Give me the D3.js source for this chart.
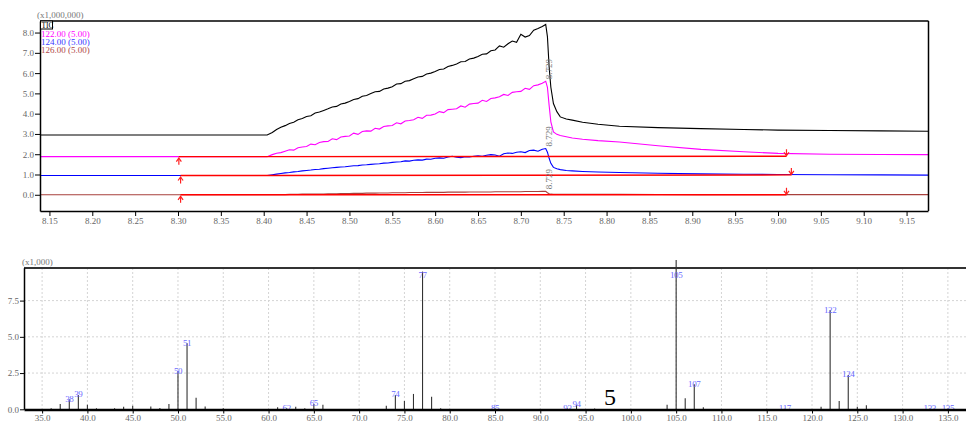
<!DOCTYPE html>
<html><head><meta charset="utf-8">
<script src="https://cdn.jsdelivr.net/npm/d3@7"></script>
<style>body{margin:0;background:#fff} svg{display:block} text{font-family:"Liberation Serif",serif}</style>
</head><body><svg id="c" width="966" height="421"></svg>
<script>
// ---------- Chromatogram data (top) ----------
const times = [8.139, 8.404,
 8.410, 8.415, 8.420, 8.425, 8.430, 8.435, 8.440, 8.445, 8.450,
 8.455, 8.460, 8.465, 8.470, 8.475, 8.480, 8.485, 8.490, 8.495, 8.500,
 8.505, 8.510, 8.515, 8.520, 8.525, 8.530, 8.535, 8.540, 8.545, 8.550,
 8.555, 8.560, 8.565, 8.570, 8.575, 8.580, 8.585, 8.590, 8.595, 8.600,
 8.605, 8.610, 8.615, 8.620, 8.625, 8.630, 8.635, 8.640, 8.645, 8.650,
 8.655, 8.660, 8.665, 8.670, 8.675, 8.680, 8.685, 8.690, 8.695, 8.700,
 8.705, 8.710, 8.715, 8.720, 8.725, 8.729,
 8.731, 8.733, 8.735, 8.738, 8.742, 8.746, 8.753, 8.760, 8.772, 8.790, 8.815, 8.860, 8.910, 8.960, 9.000, 9.060, 9.120, 9.175];
const ticValues = [2.95, 2.95,
 3.07, 3.22, 3.33, 3.41, 3.52, 3.58, 3.70, 3.76, 3.86,
 3.90, 4.03, 4.08, 4.16, 4.24, 4.33, 4.36, 4.48, 4.52, 4.60,
 4.70, 4.74, 4.86, 4.90, 4.99, 5.08, 5.10, 5.22, 5.26, 5.33,
 5.46, 5.48, 5.60, 5.63, 5.72, 5.81, 5.84, 5.96, 6.00, 6.08,
 6.18, 6.20, 6.33, 6.38, 6.45, 6.56, 6.57, 6.70, 6.74, 6.82,
 6.93, 6.95, 7.10, 7.14, 7.34, 7.28, 7.45, 7.58, 7.52, 7.92,
 7.78, 7.85, 8.12, 8.20, 8.30, 8.40,
 7.80, 6.30, 5.30, 4.50, 4.10, 3.84, 3.74, 3.68, 3.58, 3.48, 3.38, 3.31, 3.26, 3.22, 3.19, 3.17, 3.15, 3.13];
const mz122Values = [1.88, 1.88,
 1.98, 2.05, 2.08, 2.15, 2.22, 2.20, 2.32, 2.36, 2.38,
 2.50, 2.47, 2.58, 2.62, 2.63, 2.76, 2.72, 2.85, 2.88, 2.90,
 3.04, 2.98, 3.12, 3.15, 3.14, 3.28, 3.24, 3.37, 3.40, 3.42,
 3.55, 3.50, 3.64, 3.66, 3.70, 3.82, 3.77, 3.92, 3.93, 3.98,
 4.10, 4.05, 4.20, 4.22, 4.24, 4.38, 4.32, 4.47, 4.50, 4.52,
 4.66, 4.60, 4.75, 4.78, 4.83, 4.95, 4.90, 5.05, 5.08, 5.10,
 5.25, 5.20, 5.38, 5.42, 5.50, 5.60,
 5.30, 4.40, 3.60, 3.10, 2.98, 2.92, 2.86, 2.80, 2.74, 2.67, 2.60, 2.42, 2.24, 2.12, 2.04, 2.00, 1.99, 1.98];
const mz124Values = [0.95, 0.95,
 0.99, 1.02, 1.05, 1.08, 1.10, 1.13, 1.15, 1.18, 1.20,
 1.22, 1.25, 1.26, 1.29, 1.31, 1.33, 1.35, 1.37, 1.38, 1.41,
 1.43, 1.44, 1.47, 1.48, 1.50, 1.52, 1.53, 1.56, 1.57, 1.60,
 1.62, 1.63, 1.67, 1.66, 1.70, 1.72, 1.71, 1.76, 1.75, 1.80,
 1.82, 1.80, 1.86, 1.90, 1.85, 1.83, 1.88, 1.86, 1.90, 1.92,
 1.90, 1.95, 1.98, 1.96, 1.90, 2.02, 2.06, 2.04, 2.10, 2.12,
 2.08, 2.18, 2.20, 2.15, 2.25, 2.28,
 2.10, 1.80, 1.55, 1.35, 1.28, 1.24, 1.20, 1.18, 1.15, 1.12, 1.10, 1.06, 1.03, 1.01, 1.00, 0.99, 0.98, 0.97];
const mz126Values = [0.00, 0.00,
 0.00, 0.01, 0.01, 0.01, 0.02, 0.02, 0.02, 0.03, 0.03,
 0.03, 0.04, 0.04, 0.04, 0.05, 0.05, 0.05, 0.06, 0.06, 0.06,
 0.07, 0.07, 0.07, 0.08, 0.08, 0.08, 0.09, 0.09, 0.09, 0.10,
 0.10, 0.10, 0.10, 0.11, 0.11, 0.11, 0.11, 0.12, 0.12, 0.12,
 0.12, 0.12, 0.13, 0.13, 0.13, 0.13, 0.13, 0.14, 0.14, 0.14,
 0.14, 0.14, 0.14, 0.15, 0.15, 0.15, 0.15, 0.15, 0.15, 0.15,
 0.16, 0.16, 0.16, 0.16, 0.17, 0.17,
 0.10, 0.05, 0.03, 0.02, 0.02, 0.02, 0.02, 0.02, 0.02, 0.02, 0.02, 0.01, 0.01, 0.01, 0.01, 0.01, 0.01, 0.01];
const legendLabels = ["TIC", "122.00 (5.00)", "124.00 (5.00)", "126.00 (5.00)"];
const peakTime = 8.729;
const peakLabel = "8.729";
// integration baselines for 122, 124, 126
const baseStartT = [8.301, 8.303, 8.303];
const baseEndT = [9.0099, 9.0156, 9.0099];
const baseStartV = [1.88, 0.95, 0.00];
const baseEndV = [1.90, 0.98, 0.00];
const topXTicks = [8.15,8.20,8.25,8.30,8.35,8.40,8.45,8.50,8.55,8.60,8.65,8.70,8.75,8.80,8.85,8.90,8.95,9.00,9.05,9.10,9.15];
const topYTicks = [0,1,2,3,4,5,6,7,8];

// ---------- Mass spectrum data (bottom) ----------
const mzList = [36,37,38,39,40,41,43,44,45,47,48,49,50,51,52,53,55,61,62,63,64,65,66,73,74,75,76,77,78,79,85,93,94,96,104,105,106,107,108,117,121,122,123,124,125,126,133,135];
const intensity = [0.07,0.37,0.69,0.99,0.32,0.07,0.07,0.18,0.25,0.20,0.09,0.37,2.64,4.55,0.80,0.20,0.07,0.14,0.07,0.18,0.07,0.37,0.32,0.25,0.99,0.57,1.06,9.50,0.87,0.07,0.05,0.05,0.30,0.05,0.32,10.3,0.76,1.72,0.14,0.04,0.18,6.85,0.57,2.37,0.18,0.28,0.04,0.04];
const labeledMz = [38,39,50,51,62,65,74,77,85,93,94,105,107,117,122,124,133,135];
const bottomXTicks = [35,40,45,50,55,60,65,70,75,80,85,90,95,100,105,110,115,120,125,130,135];
const bottomYTicks = [0,2.5,5.0,7.5];

const svg = d3.select("#c");

// ================= TOP CHART =================
const x = d3.scaleLinear([8.139, 9.175], [40, 928]);
const y = d3.scaleLinear([-0.8, 8.57], [211, 21]);

const series = [
  {vals: ticValues, color: "#000000"},
  {vals: mz122Values, color: "#ff00ff"},
  {vals: mz124Values, color: "#0000ff"},
  {vals: mz126Values, color: "#a8403c"}
];
const line = d3.line().x(d => x(d[0])).y(d => y(d[1]));
series.forEach(s => {
  svg.append("path").datum(times.map((t,i) => [t, s.vals[i]]))
    .attr("d", line).attr("fill","none").attr("stroke", s.color).attr("stroke-width", 1.1);
});

// red baselines
baseStartT.forEach((t0, i) => {
  svg.append("path").datum([[t0, baseStartV[i]], [baseEndT[i], baseEndV[i]]])
    .attr("d", line).attr("fill","none").attr("stroke","#ff0000").attr("stroke-width",1.4);
  const sx = x(t0), sy = y(baseStartV[i]);
  svg.append("line").attr("x1",sx).attr("x2",sx).attr("y1",sy+8).attr("y2",sy+2)
    .attr("stroke","#ff2020").attr("stroke-width",1.2);
  svg.append("path").attr("d",`M${sx-2.5},${sy+5}L${sx},${sy+1.5}L${sx+2.5},${sy+5}`)
    .attr("fill","none").attr("stroke","#ff2020").attr("stroke-width",1.2);
  const ex = x(baseEndT[i]), ey = y(baseEndV[i]);
  svg.append("line").attr("x1",ex).attr("x2",ex).attr("y1",ey-7).attr("y2",ey-1)
    .attr("stroke","#ff2020").attr("stroke-width",1.2);
  svg.append("path").attr("d",`M${ex-2.5},${ey-4}L${ex},${ey-0.5}L${ex+2.5},${ey-4}`)
    .attr("fill","none").attr("stroke","#ff2020").attr("stroke-width",1.2);
});

// peak labels (rotated) for 122, 124, 126
const pi = times.indexOf(peakTime);
[mz122Values, mz124Values, mz126Values].forEach(vals => {
  const px = x(peakTime) + 6, py = y(vals[pi]) - 2;
  svg.append("text").attr("transform",`translate(${px},${py}) rotate(-90)`)
    .attr("font-size",9).attr("fill","#777").text(peakLabel);
});

// frame
svg.append("line").attr("x1",40).attr("x2",928.5).attr("y1",21).attr("y2",21).attr("stroke","#000").attr("stroke-width",1.5);
svg.append("line").attr("x1",928.5).attr("x2",928.5).attr("y1",21).attr("y2",211).attr("stroke","#000").attr("stroke-width",1.5);

// x axis top
const fmt2 = d3.format(".2f");
const gx = svg.append("g").attr("transform","translate(0,211)");
gx.call(d3.axisBottom(x).tickValues(d3.range(815, 918).map(v => v/100)).tickSize(3).tickFormat("").tickSizeOuter(0));
gx.call(d3.axisBottom(x).tickValues(topXTicks).tickSize(5).tickPadding(2).tickFormat(fmt2).tickSizeOuter(0));
gx.selectAll(".domain").attr("stroke","#000").attr("stroke-width",1.5);
gx.selectAll("text").attr("font-size",9).attr("fill","#666").attr("font-family","Liberation Serif");

// y axis top
const gy = svg.append("g").attr("transform","translate(40,0)");
gy.call(d3.axisLeft(y).tickValues(d3.range(-4, 43).map(v => v/5)).tickSize(2.5).tickFormat("").tickSizeOuter(0));
gy.call(d3.axisLeft(y).tickValues(topYTicks).tickSize(5).tickPadding(1).tickFormat(d3.format(".1f")).tickSizeOuter(0));
gy.selectAll(".domain").attr("stroke","#000").attr("stroke-width",1.5);
gy.selectAll("text").attr("font-size",9).attr("fill","#666").attr("font-family","Liberation Serif");

svg.append("text").attr("x",37).attr("y",18).attr("font-size",9).attr("fill","#777").text("(x1,000,000)");

// legend
svg.append("rect").attr("x",40.5).attr("y",21).attr("width",12).attr("height",8)
  .attr("fill","#fff").attr("stroke","#000").attr("stroke-width",1);
svg.append("text").attr("x",41.5).attr("y",27.8).attr("font-size",7.5).attr("fill","#000").text(legendLabels[0]);
const legColors = ["#ff00ff","#3a3aff","#b04848"];
legendLabels.slice(1).forEach((lab, i) => {
  svg.append("text").attr("x",41).attr("y",37 + i*8.2).attr("font-size",9)
    .attr("fill",legColors[i]).text(lab);
});

// ================= BOTTOM CHART =================
const xs = d3.scaleLinear([33.0, 137.0], [24, 966]);
const ys = d3.scaleLinear([0, 9.77], [409.3, 267.7]);

const grid = svg.append("g");
bottomXTicks.forEach(v => {
  grid.append("line").attr("x1",xs(v)).attr("x2",xs(v)).attr("y1",268).attr("y2",409)
    .attr("stroke","#d4d4d4").attr("stroke-dasharray","2,2");
});
bottomYTicks.slice(1).forEach(v => {
  grid.append("line").attr("x1",24).attr("x2",966).attr("y1",ys(v)).attr("y2",ys(v))
    .attr("stroke","#d4d4d4").attr("stroke-dasharray","2,2");
});

mzList.forEach((m, i) => {
  svg.append("line").attr("x1",xs(m)).attr("x2",xs(m)).attr("y1",ys(0)).attr("y2",ys(intensity[i]))
    .attr("stroke","#333").attr("stroke-width",1.1);
});
labeledMz.forEach(m => {
  const v = intensity[mzList.indexOf(m)];
  const by = Math.max(ys(v) + 2.5, 278);
  svg.append("text").attr("x",xs(m)).attr("y",by).attr("text-anchor","middle")
    .attr("font-size",9).attr("letter-spacing","-0.4").attr("fill","#6b6bff").text(m);
});

svg.append("line").attr("x1",24).attr("x2",966).attr("y1",268).attr("y2",268).attr("stroke","#333").attr("stroke-width",1.8);

const gbx = svg.append("g").attr("transform","translate(0,409.5)");
gbx.call(d3.axisBottom(xs).tickValues(d3.range(34, 138)).tickSize(3).tickFormat("").tickSizeOuter(0));
gbx.call(d3.axisBottom(xs).tickValues(bottomXTicks).tickSize(4).tickPadding(1).tickFormat(d3.format(".1f")).tickSizeOuter(0));
gbx.selectAll(".domain").attr("stroke","#000").attr("stroke-width",2.5);
gbx.selectAll("text").attr("font-size",9).attr("fill","#666").attr("font-family","Liberation Serif");

const gby = svg.append("g").attr("transform","translate(24,0)");
gby.call(d3.axisLeft(ys).tickValues(d3.range(0, 20).map(v => v/2)).tickSize(2.5).tickFormat("").tickSizeOuter(0));
gby.call(d3.axisLeft(ys).tickValues(bottomYTicks).tickSize(4).tickPadding(1).tickFormat(d3.format(".1f")).tickSizeOuter(0));
gby.selectAll(".domain").attr("stroke","#000").attr("stroke-width",1.5);
gby.selectAll("text").attr("font-size",9).attr("fill","#666").attr("font-family","Liberation Serif");

svg.append("text").attr("x",22).attr("y",265).attr("font-size",9).attr("fill","#777").text("(x1,000)");

svg.append("text").attr("x",610).attr("y",405).attr("text-anchor","middle")
  .attr("font-size",24).attr("fill","#000").text("5");
</script>
</body></html>
